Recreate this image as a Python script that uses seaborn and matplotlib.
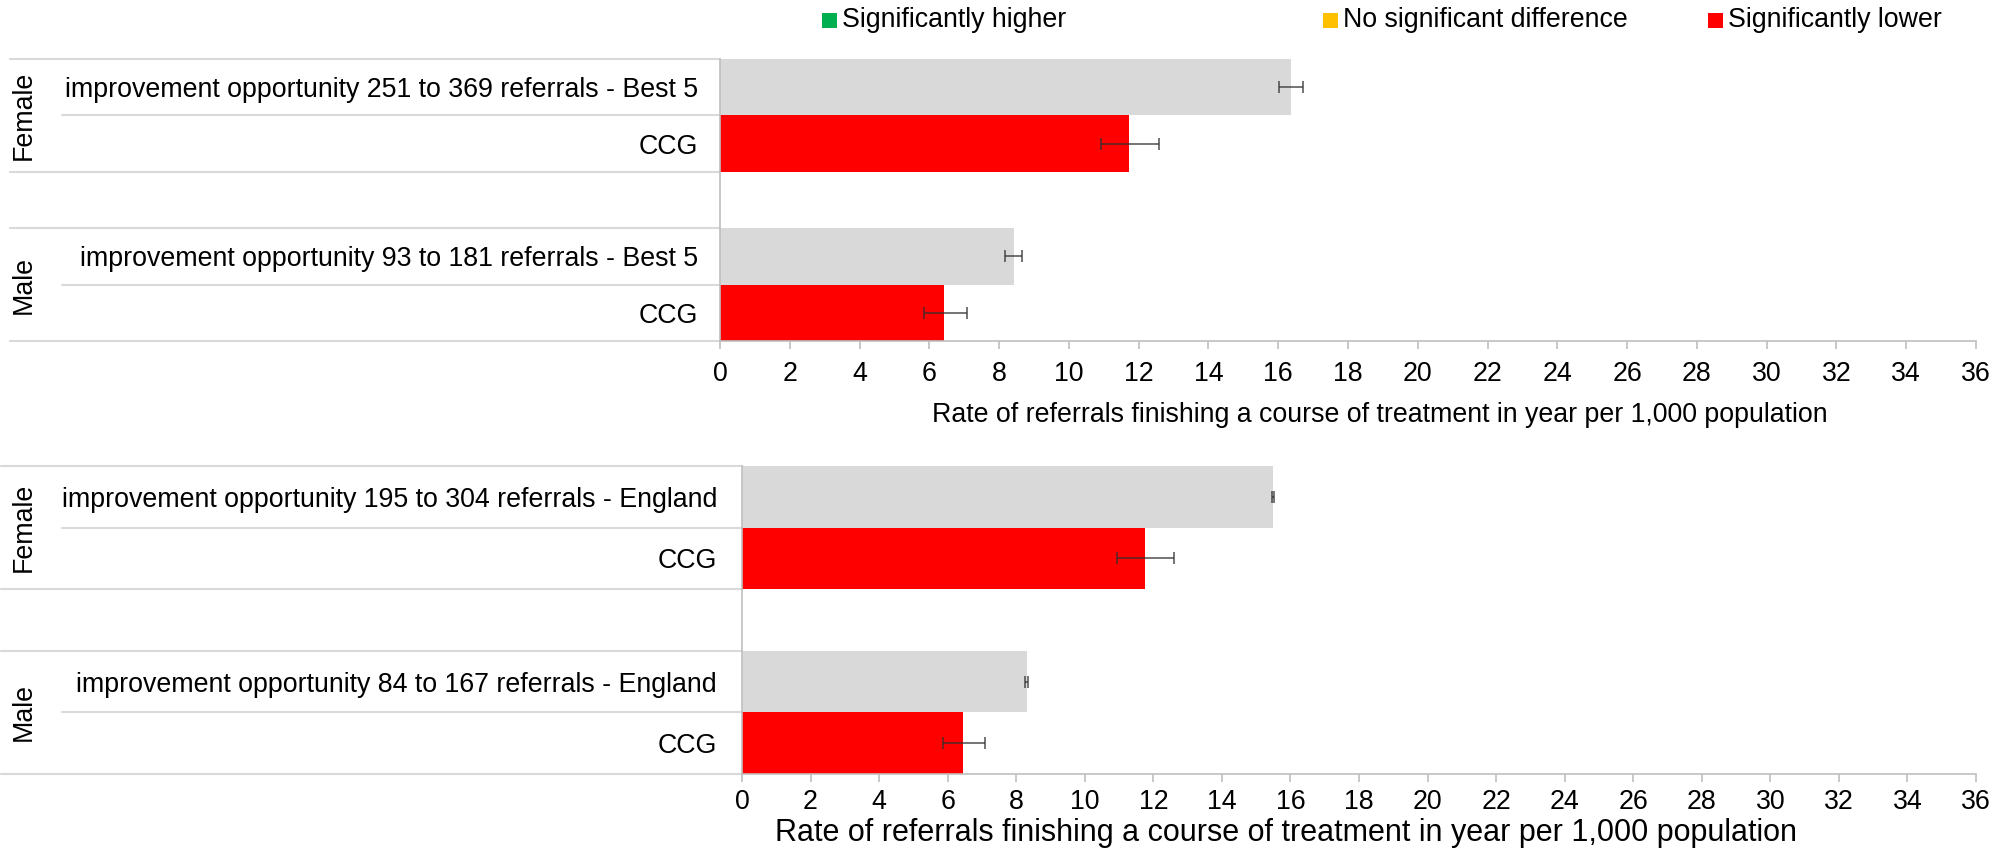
import matplotlib
matplotlib.use("Agg")
import matplotlib.pyplot as plt
import matplotlib.transforms as mtrans
from matplotlib.patches import Rectangle
import numpy as np
import pandas as pd
import seaborn as sns

# ---------------- data ----------------
groups = ["Female", "Male"]

top_comp_labels = ["improvement opportunity 251 to 369 referrals - Best 5",
                   "improvement opportunity 93 to 181 referrals - Best 5"]
top_comp_values = [16.38, 8.42]
top_comp_low = [16.03, 8.18]
top_comp_high = [16.70, 8.67]
top_ccg_values = [11.72, 6.43]
top_ccg_low = [10.91, 5.85]
top_ccg_high = [12.57, 7.07]

bot_comp_labels = ["improvement opportunity 195 to 304 referrals - England",
                   "improvement opportunity 84 to 167 referrals - England"]
bot_comp_values = [15.49, 8.31]
bot_comp_low = [15.45, 8.27]
bot_comp_high = [15.53, 8.35]
bot_ccg_values = [11.76, 6.45]
bot_ccg_low = [10.93, 5.85]
bot_ccg_high = [12.60, 7.09]

ccg_label = "CCG"
x_ticks = list(range(0, 37, 2))
x_title = "Rate of referrals finishing a course of treatment in year per 1,000 population"
legend_labels = ["Significantly higher", "No significant difference", "Significantly lower"]
legend_colors = ["#00B050", "#FFC000", "#FF0000"]

COMP_COLOR = "#D9D9D9"
CCG_COLOR = "#FF0000"
LINE_COLOR = "#D9D9D9"
AXIS_COLOR = "#BFBFBF"
FS = 19.3

sns.set_theme(style="white")
plt.rcParams["font.family"] = ["Liberation Sans", "DejaVu Sans"]

W, H = 2009, 851
fig = plt.figure(figsize=(W / 100, H / 100), dpi=100)


def build_df(comp_vals, ccg_vals):
    rows = []
    order = []
    for gi, g in enumerate(groups):
        k1, k2 = f"{g}|comp", f"{g}|ccg"
        rows.append(dict(slot=k1, value=comp_vals[gi], role="comp"))
        rows.append(dict(slot=k2, value=ccg_vals[gi], role="ccg"))
        order += [k1, k2]
        if gi < len(groups) - 1:
            order.append(f"gap{gi}")
    return pd.DataFrame(rows), order


def draw_panel(rect, comp_labels, comp_vals, comp_lo, comp_hi,
               ccg_vals, ccg_lo, ccg_hi, line_x0, inner_x0, label_pad,
               xlabel_pos, xlabel_size, tick_pad):
    ax = fig.add_axes(rect)
    df, order = build_df(comp_vals, ccg_vals)
    sns.barplot(data=df, y="slot", x="value", hue="role", order=order,
                palette={"comp": COMP_COLOR, "ccg": CCG_COLOR}, saturation=1,
                width=1.0, dodge=False, legend=False, linewidth=0,
                errorbar=None, ax=ax)
    pos = {k: i for i, k in enumerate(order)}
    for gi, g in enumerate(groups):
        for key, v, lo, hi in [(f"{g}|comp", comp_vals[gi], comp_lo[gi], comp_hi[gi]),
                               (f"{g}|ccg", ccg_vals[gi], ccg_lo[gi], ccg_hi[gi])]:
            ax.errorbar([v], [pos[key]], xerr=[[v - lo], [hi - v]], fmt="none",
                        ecolor="#303030", elinewidth=1.1, capsize=4, capthick=1.1,
                        alpha=0.85)
    ax.set_xlim(0, 36)
    ax.set_ylim(len(order) - 0.5, -0.5)
    ax.set_xticks(x_ticks)
    ax.set_xticklabels([str(t) for t in x_ticks], fontsize=FS)
    ytick_pos, ytick_lab = [], []
    for gi, g in enumerate(groups):
        ytick_pos += [pos[f"{g}|comp"], pos[f"{g}|ccg"]]
        ytick_lab += [comp_labels[gi], ccg_label]
    ax.set_yticks(ytick_pos)
    ax.set_yticklabels(ytick_lab, fontsize=FS, color="#000000")
    ax.tick_params(axis="y", length=0, pad=label_pad)
    ax.tick_params(axis="x", direction="out", length=6, width=1.2,
                   color=AXIS_COLOR, pad=tick_pad, bottom=True, labelcolor="#000000")
    ax.set_ylabel("")
    ax.set_xlabel(x_title, fontsize=xlabel_size, color="#000000")
    ax.xaxis.set_label_coords(*xlabel_pos)
    ax.xaxis.label.set_va("center")
    for s in ["top", "right"]:
        ax.spines[s].set_visible(False)
    for s in ["left", "bottom"]:
        ax.spines[s].set_color(AXIS_COLOR)
        ax.spines[s].set_linewidth(1.2)
    tr = mtrans.blended_transform_factory(fig.transFigure, ax.transData)
    ax_left = rect[0]
    boundaries = []
    for gi, g in enumerate(groups):
        a = pos[f"{g}|comp"]
        b = pos[f"{g}|ccg"]
        boundaries.append((a - 0.5, line_x0))
        boundaries.append((a + 0.5, inner_x0))
        boundaries.append((b + 0.5, line_x0))
        ax.text(24 / W, (a + b) / 2, g, rotation=90, ha="center", va="center",
                fontsize=FS, color="#000000", transform=tr)
    for yb, x0 in boundaries:
        ax.plot([x0 / W, ax_left], [yb, yb], color=LINE_COLOR, lw=1.5,
                transform=tr, clip_on=False, zorder=0)
    return ax


top_rect = [720 / W, 1 - 341 / H, (1976 - 720) / W, (341 - 59) / H]
bot_rect = [742 / W, 1 - 774 / H, (1976 - 742) / W, (774 - 466) / H]

draw_panel(top_rect, top_comp_labels, top_comp_values, top_comp_low, top_comp_high,
           top_ccg_values, top_ccg_low, top_ccg_high,
           line_x0=10, inner_x0=62, label_pad=16,
           xlabel_pos=(0.525, -0.262), xlabel_size=FS, tick_pad=8.5)
draw_panel(bot_rect, bot_comp_labels, bot_comp_values, bot_comp_low, bot_comp_high,
           bot_ccg_values, bot_ccg_low, bot_ccg_high,
           line_x0=1, inner_x0=62, label_pad=18,
           xlabel_pos=(0.441, -0.191), xlabel_size=22.0, tick_pad=5)

leg_x = [822, 1323, 1708]
leg_y = 20
sq = 15
for x, lab, col in zip(leg_x, legend_labels, legend_colors):
    fig.patches.append(Rectangle((x / W, 1 - (leg_y + sq / 2) / H), sq / W, sq / H,
                                 transform=fig.transFigure, facecolor=col,
                                 edgecolor="none"))
    fig.text((x + sq + 5) / W, 1 - leg_y / H, lab, ha="left", va="center",
             fontsize=FS, color="#000000")

fig.savefig("out.png", dpi=100, facecolor="white")
